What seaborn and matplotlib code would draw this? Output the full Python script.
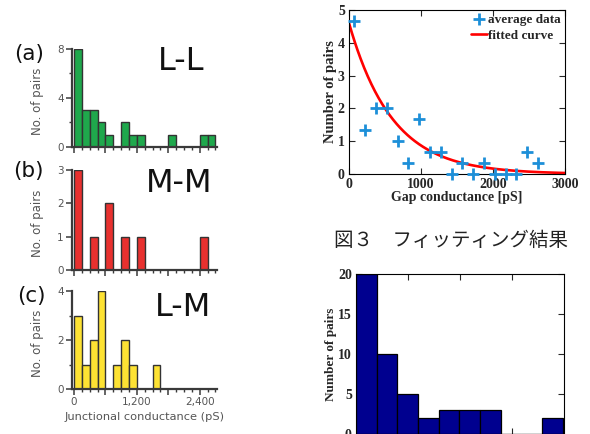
import matplotlib
matplotlib.use("Agg")
import matplotlib.pyplot as plt
import numpy as np
import seaborn as sns
from matplotlib.lines import Line2D
from matplotlib.ticker import MultipleLocator, FixedLocator

# histogram counts per 150 pS bin
counts_ll = [8, 3, 3, 2, 1, 0, 2, 1, 1, 0, 0, 0, 1, 0, 0, 0, 1, 1]
counts_mm = [3, 0, 1, 0, 2, 0, 1, 0, 1, 0, 0, 0, 0, 0, 0, 0, 1, 0]
counts_lm = [3, 1, 2, 4, 0, 1, 2, 1, 0, 0, 1, 0, 0, 0, 0, 0, 0, 0]

# averaged data points (top right)
avg_x = [75, 225, 375, 525, 675, 825, 975, 1125, 1275, 1425, 1575, 1725,
         1875, 2025, 2175, 2325, 2475, 2625]
avg_y = [4.67, 1.33, 2.0, 2.0, 1.0, 0.33, 1.67, 0.67, 0.67, 0.0, 0.33, 0.0,
         0.33, 0.0, 0.0, 0.0, 0.67, 0.33]

# fitted exponential y = A * exp(-x / tau)
fit_amp = 4.6
fit_tau = 600.0

# pooled histogram (bottom right), 10 bins
pooled_counts = [20, 10, 5, 2, 3, 3, 3, 0, 0, 2]

bin_centers = np.arange(75, 2700, 150)

sns.set_style("ticks")
plt.rcParams['font.family'] = ['DejaVu Sans']

W, H = 590, 434
fig = plt.figure(figsize=(W / 100, H / 100), dpi=100)


def box(l, t, r, b):
    return [l / W, 1 - b / H, (r - l) / W, (b - t) / H]


def px(x, y):
    return x / W, 1 - y / H


gray = '#555555'
spine_c = '#3a3a3a'

left_panels = [
    (box(72, 49, 217, 147), counts_ll, '#1fa84c', 8, [0, 4, 8], 2, '(a)', 'L-L', (29, 54), (181, 61)),
    (box(72, 170, 217, 270), counts_mm, '#e8312f', 3, [0, 1, 2, 3], None, '(b)', 'M-M', (28, 171), (179, 183)),
    (box(72, 291, 217, 389), counts_lm, '#fde233', 4, [0, 2, 4], 1, '(c)', 'L-M', (31, 296), (183, 307)),
]

for i, (pos, counts, col, ytop, yt, yminor, tag, name, tag_xy, name_xy) in enumerate(left_panels):
    ax = fig.add_axes(pos)
    sns.barplot(x=bin_centers, y=counts, native_scale=True, width=1, color=col,
                saturation=1, edgecolor='#333333', linewidth=1.0, errorbar=None, ax=ax)
    ax.set_xlim(-38, 2730)
    ax.set_ylim(0, ytop)
    ax.set_yticks(yt)
    if yminor:
        ax.yaxis.set_minor_locator(MultipleLocator(yminor))
    ax.xaxis.set_major_locator(FixedLocator([0, 600, 1200, 1800, 2400]))
    ax.xaxis.set_minor_locator(MultipleLocator(150))
    for s in ['top', 'right']:
        ax.spines[s].set_visible(False)
    for s in ['left', 'bottom']:
        ax.spines[s].set_color(spine_c)
        ax.spines[s].set_linewidth(1.6)
    ax.tick_params(which='major', direction='out', length=4, width=1.1,
                   color=spine_c, labelsize=7.5, labelcolor=gray, pad=2)
    ax.tick_params(which='minor', direction='out', length=2.5, width=1.0, color=spine_c)
    if i == 2:
        ax.set_xticklabels(['0', '', '1,200', '', '2,400'])
        ax.set_xlabel('Junctional conductance (pS)', fontsize=8.2, color=gray, labelpad=3)
    else:
        ax.set_xticklabels([])
        ax.set_xlabel('')
    ax.set_ylabel('No. of pairs', fontsize=8.5, color=gray)
    ax.yaxis.set_label_coords(-0.19, 0.47)
    fig.text(*px(*tag_xy), tag, fontsize=15.5, ha='center', va='center', color='#111111')
    fig.text(*px(*name_xy), name, fontsize=23, ha='center', va='center', color='#111111')

# top right: averaged data and fitted curve
serif = dict(family='Liberation Serif', weight='bold')
blue = '#1d8fd8'

ax1 = fig.add_axes(box(349, 10, 565, 174))
sns.scatterplot(x=avg_x, y=avg_y, marker='+', s=70, linewidth=2.0, color=blue,
                clip_on=False, zorder=3, ax=ax1)
fit_x = np.linspace(0, 3000, 300)
fit_y = fit_amp * np.exp(-fit_x / fit_tau)
sns.lineplot(x=fit_x, y=fit_y, color='#ff0000', linewidth=1.9, ax=ax1)
ax1.set_xlim(0, 3000)
ax1.set_ylim(0, 5)
ax1.set_xticks([0, 1000, 2000, 3000])
ax1.set_yticks([0, 1, 2, 3, 4, 5])
ax1.tick_params(direction='in', length=4, width=0.8, top=True, right=True, pad=3)
for lab in ax1.get_xticklabels() + ax1.get_yticklabels():
    lab.set_fontfamily('Liberation Serif')
    lab.set_fontweight('bold')
    lab.set_fontsize(10)
for s in ax1.spines.values():
    s.set_color('black')
    s.set_linewidth(0.8)
ax1.set_xlabel('Gap conductance [pS]', fontdict=serif, fontsize=10, labelpad=0)
ax1.set_ylabel('Number of pairs', fontdict=serif, fontsize=10.5, labelpad=0.5)
handles = [
    Line2D([], [], color=blue, marker='+', linestyle='', markersize=8.5, markeredgewidth=2.0),
    Line2D([], [], color='#ff0000', linewidth=1.9),
]
ax1.legend(handles, ['average data', 'fitted curve'], loc='upper right', frameon=False,
           prop=dict(family='Liberation Serif', weight='bold', size=9.5),
           handlelength=1.2, handletextpad=0.1, borderaxespad=0.1, borderpad=0.2,
           labelspacing=0.25)

# caption
fig.text(*px(451, 240), '図３　フィッティング結果', family=['Noto Sans CJK JP', 'DejaVu Sans'],
         fontsize=14, ha='center', va='center', color='#222222')

# bottom right: pooled histogram
pooled_centers = np.arange(139, 2780, 278)
ax2 = fig.add_axes(box(356, 274, 564, 434))
sns.barplot(x=pooled_centers, y=pooled_counts, native_scale=True, width=1, color='#00008f',
            saturation=1, edgecolor='black', linewidth=0.9, errorbar=None, ax=ax2)
ax2.set_xlim(0, 2800)
ax2.set_ylim(0, 20)
ax2.set_xticks([700, 1400, 2100])
ax2.set_yticks([0, 5, 10, 15, 20])
ax2.tick_params(direction='in', length=4, width=0.8, top=True, right=True, pad=3)
for lab in ax2.get_yticklabels():
    lab.set_fontfamily('Liberation Serif')
    lab.set_fontweight('bold')
    lab.set_fontsize(10)
ax2.set_xticklabels([])
for s in ax2.spines.values():
    s.set_color('black')
    s.set_linewidth(0.8)
ax2.set_xlabel('')
ax2.set_ylabel('Number of pairs', fontdict=serif, fontsize=9.5, labelpad=1)

fig.savefig('out.png', dpi=100)
